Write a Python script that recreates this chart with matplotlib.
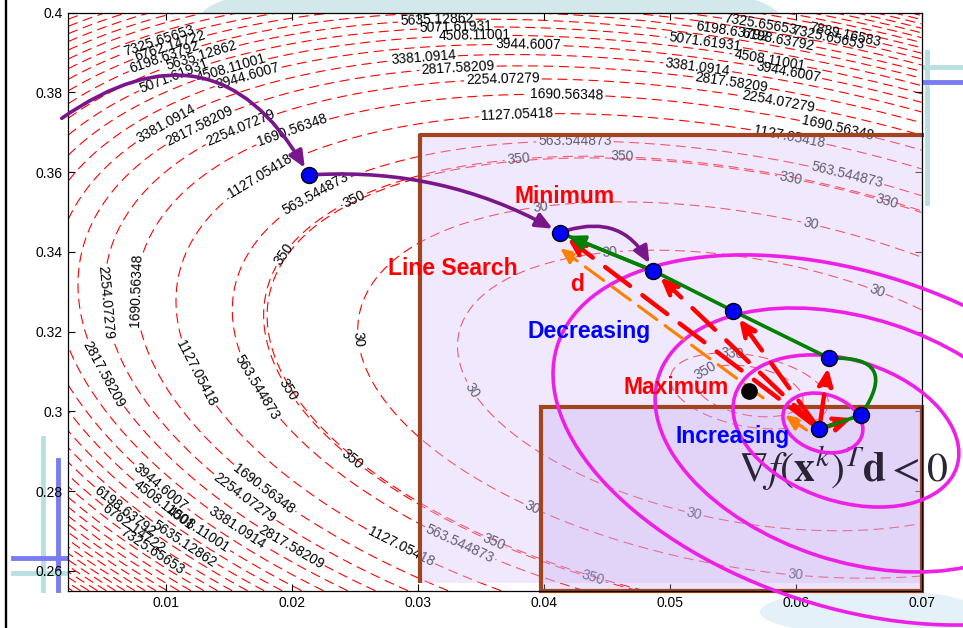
import numpy as np
import matplotlib
matplotlib.use("Agg")
import matplotlib.pyplot as plt
from matplotlib.patches import Rectangle, Ellipse, FancyArrowPatch
from matplotlib.lines import Line2D
from matplotlib.transforms import Affine2D

plt.rcParams['font.family'] = ['Liberation Sans', 'DejaVu Sans']
plt.rcParams['mathtext.fontset'] = 'stix'

#axis range + ticks
x_lim = [0.00227, 0.0700]
y_lim = [0.2550, 0.4000]
x_ticks = [0.01, 0.02, 0.03, 0.04, 0.05, 0.06, 0.07]
x_ticklabels = ["0.01", "0.02", "0.03", "0.04", "0.05", "0.06", "0.07"]
y_ticks = [0.26, 0.28, 0.30, 0.32, 0.34, 0.36, 0.38, 0.40]
y_ticklabels = ["0.26", "0.28", "0.3", "0.32", "0.34", "0.36", "0.38", "0.4"]

#contour levels (labelled ones, unlabelled outer ones keep the same step)
levels = [30, 330, 350, 563.544873, 1127.05418, 1690.56348, 2254.07279, 2817.58209,
          3381.0914, 3944.6007, 4508.11001, 5071.61931, 5635.12862, 6198.63792,
          6762.14722, 7325.65653, 7889.16583, 8452.67514, 9016.18444, 9579.69375,
          10143.2031, 10706.7124, 11270.2217, 11833.7310, 12397.2403, 12960.7496,
          13524.2589, 14087.7682, 14651.2775, 15214.7868, 15778.2961]

#objective: quartic ring around the local maximum (ellipse form fitted in screen pixels)
peak_x, peak_y = 0.05632, 0.30510
px_x, px_y = 12600.0, 3986.0
q_xx, q_xy, q_yy = 4.605e-6, 5.986e-6, 1.90e-5
q_skew, u_ref = 1.48e-9, 600.0
ring_k, ring_q0, f_min = 1506.0, 0.494, 0.0355

#where the contour labels sit
label_xy = [
    (0.00937, 0.39375), (0.01024, 0.3925), (0.00984, 0.3895), (0.01277, 0.3900),
    (0.01065, 0.3845), (0.01515, 0.38675), (0.01649, 0.3845),
    (0.00984, 0.3730), (0.01253, 0.3725), (0.01578, 0.3725), (0.0199, 0.3718),
    (0.01728, 0.3600), (0.02164, 0.35625), (0.02465, 0.3555),
    (0.0330, 0.3970), (0.03154, 0.39625), (0.03450, 0.39500), (0.03880, 0.39130),
    (0.03043, 0.38925), (0.0332, 0.38625), (0.03676, 0.38375), (0.04183, 0.37875),
    (0.03787, 0.37425), (0.04248, 0.3680), (0.03797, 0.3635), (0.04622, 0.3643),
    (0.03972, 0.3512), (0.04526, 0.3404),
    (0.05280, 0.39315), (0.05494, 0.39491), (0.05716, 0.39641), (0.05859, 0.39265),
    (0.05795, 0.38838), (0.05939, 0.38512), (0.05224, 0.38688), (0.05494, 0.38312),
    (0.05859, 0.37785), (0.06327, 0.37032), (0.05946, 0.36857), (0.06398, 0.35828),
    (0.05955, 0.35803), (0.06716, 0.35176), (0.06256, 0.39341), (0.06391, 0.39441),
    (0.06113, 0.34594), (0.06629, 0.32913),
    (0.05495, 0.31461), (0.05280, 0.31035),
    (0.01908, 0.33995), (0.00463, 0.32716), (0.00701, 0.33042), (0.01217, 0.30910),
    (0.01709, 0.30584), (0.00494, 0.30910), (0.01947, 0.30483), (0.02479, 0.31788),
    (0.03392, 0.30458),
    (0.00955, 0.28096), (0.01010, 0.27770), (0.01272, 0.27092), (0.01169, 0.26766),
    (0.00693, 0.27569), (0.00740, 0.27018), (0.00899, 0.26516), (0.01772, 0.28021),
    (0.01613, 0.27770), (0.02010, 0.26691), (0.01566, 0.27092), (0.02860, 0.26566),
    (0.02487, 0.28824),
    (0.03336, 0.26691), (0.03598, 0.26716), (0.03907, 0.27569), (0.04383, 0.25763),
    (0.05185, 0.27319), (0.05994, 0.25763),
]

#iterates x^k (0: start, 1: minimum, ... 6: last)
iter_x = [0.02137, 0.04129, 0.04870, 0.05505, 0.06267, 0.06518, 0.06187]
iter_y = [0.35928, 0.34481, 0.33527, 0.32516, 0.31330, 0.29907, 0.29549]
max_x, max_y = 0.05632, 0.30517
path_start = (0.00175, 0.37351)

#direction d arrows (tail, head)
d_arrows = [((0.05742, 0.30338), (0.04130, 0.34089)),
            ((0.06087, 0.29530), (0.05915, 0.29906))]

#magenta level ellipses: centre (data), size (px), tilt (deg)
ell_cx = [0.06216, 0.06399, 0.06471, 0.06431]
ell_cy = [0.29708, 0.29507, 0.29281, 0.29281]
ell_w = [82, 233, 413, 615]
ell_h = [57, 141, 243, 334]
ell_angle = -18

#shaded boxes: x0, y0, x1, y1
big_box = [0.03018, 0.25693, 0.0702, 0.36932]
small_box = [0.03979, 0.2550, 0.0700, 0.30108]

notes = [("Minimum", 0.04169, 0.35401, "red"),
         ("Line Search", 0.0328, 0.33595, "red"),
         ("d", 0.04262, 0.33169, "red"),
         ("Decreasing", 0.0436, 0.3199, "blue"),
         ("Maximum", 0.05054, 0.30597, "red"),
         ("Increasing", 0.05502, 0.2938, "blue")]

W, H = 963, 628
fig = plt.figure(figsize=(W / 100, H / 100), dpi=100)
ax = fig.add_axes([68.3 / W, 1 - 590.7 / H, (921.7 - 68.3) / W, (590.7 - 12.7) / H])
ax.set_xlim(x_lim)
ax.set_ylim(y_lim)

#pixels per data unit, for shapes sized on screen
sx = ax.bbox.width / (x_lim[1] - x_lim[0])
sy = ax.bbox.height / (y_lim[1] - y_lim[0])

#contours
gx = np.linspace(x_lim[0], x_lim[1], 600)
gy = np.linspace(y_lim[0], y_lim[1], 600)
X, Y = np.meshgrid(gx, gy)
u = (X - peak_x) * px_x
v = (Y - peak_y) * px_y
Q = q_xx * u**2 + q_xy * u * v + q_yy * v**2 + q_skew * (u + u_ref) * v**2
F = ring_k * (Q - ring_q0)**2 + f_min
cs = ax.contour(X, Y, F, levels=levels, colors="red", linewidths=0.8, zorder=1)
cs.set_linestyle((0, (9, 5)))
texts = ax.clabel(cs, fmt=lambda val: f"{val:.9g}", manual=label_xy, inline=True,
                  inline_spacing=2, fontsize=10, colors="black")
for t in texts:
    t.set_zorder(1.5)

brown = "#a2441f"
ax.add_patch(Rectangle((big_box[0], big_box[1]), big_box[2] - big_box[0], big_box[3] - big_box[1],
                       facecolor=(0.87, 0.80, 0.98, 0.45), edgecolor="none", zorder=2))
ax.plot([big_box[0], big_box[0], big_box[2]], [big_box[1], big_box[3], big_box[3]],
        color=brown, lw=3, zorder=2.2, clip_on=False, solid_capstyle="butt")
ax.add_patch(Rectangle((small_box[0], small_box[1]), small_box[2] - small_box[0],
                       small_box[3] - small_box[1], facecolor=(0.75, 0.65, 0.95, 0.30),
                       edgecolor=brown, lw=3, zorder=2.3, clip_on=False))

#formula
ax.text(0.06375, 0.2858, r"$\nabla f(\mathbf{x}^k)^T\mathbf{d} < 0$", fontsize=30,
        color="#2a2535", ha="center", va="center", zorder=2.5)

#level ellipses
for cx, cy, w, h in zip(ell_cx, ell_cy, ell_w, ell_h):
    tr = Affine2D().scale(1 / sx, 1 / sy).translate(cx, cy) + ax.transData
    ax.add_patch(Ellipse((0, 0), w, h, angle=ell_angle, transform=tr, fill=False,
                         edgecolor="#ee20e8", lw=2.6, zorder=3, clip_on=False))

def arrow(p0, p1, color, lw, ls="-", rad=0.0, sa=0, sb=0, style="-|>,head_length=0.5,head_width=0.22", z=4):
    a = FancyArrowPatch(p0, p1, arrowstyle=style, mutation_scale=20,
                        connectionstyle=f"arc3,rad={rad}", color=color, lw=lw,
                        linestyle=ls, shrinkA=sa, shrinkB=sb, zorder=z, clip_on=False)
    ax.add_patch(a)

pts = list(zip(iter_x, iter_y))

#red dashed search arrows from the last iterate
for k in [1, 2, 3, 4, 5]:
    arrow(pts[6], pts[k], "red", 3.2, ls=(0, (7, 3.5)), sa=3, sb=7)

#orange d arrows
for tail, head in d_arrows:
    arrow(tail, head, "#ff7f00", 2.2, ls=(0, (7.5, 3.3)), style="-|>,head_length=0.45,head_width=0.2")

#green path
green = "#008000"
ax.plot(iter_x[1:5], iter_y[1:5], color=green, lw=2.6, zorder=4.5)
arrow(pts[4], pts[5], green, 2.6, rad=-1.0, style="-", z=4.5)
ax.plot(iter_x[5:7], iter_y[5:7], color=green, lw=2.6, zorder=4.5)
arrow(pts[2], pts[1], green, 2.6, sb=6, z=4.5)

#purple path arrows
purple = "#7a168c"
arrow(path_start, pts[0], purple, 2.6, rad=-0.55, sb=6)
arrow(pts[0], pts[1], purple, 2.6, rad=-0.15, sa=5, sb=6)
arrow(pts[1], pts[2], purple, 2.6, rad=-0.45, sa=6, sb=6)

ax.plot(iter_x, iter_y, "o", ms=11.5, color="blue", mec="black", mew=1, zorder=6)
ax.plot([max_x], [max_y], "o", ms=11, color="black", zorder=6)

for txt, tx, ty, col in notes:
    ax.text(tx, ty, txt, color=col, fontsize=16.5, fontweight="bold", ha="center",
            va="center", zorder=7)

ax.set_xticks(x_ticks)
ax.set_xticklabels(x_ticklabels)
ax.set_yticks(y_ticks)
ax.set_yticklabels(y_ticklabels)
ax.tick_params(direction="in", top=True, right=True, length=5, width=0.8, labelsize=10, pad=4)
for s in ax.spines.values():
    s.set_linewidth(0.9)
ax.set_xlim(x_lim)
ax.set_ylim(y_lim)

#slide decoration around the figure (kept under the axes so tick labels stay on top)
def fline(xs, ys, color, lw):
    fig.add_artist(Line2D([x / W for x in xs], [1 - y / H for y in ys], color=color,
                          lw=lw, transform=fig.transFigure, zorder=-0.5))

fig.add_artist(Ellipse((490 / W, 1 - 18 / H), 580 / W, 90 / H, transform=fig.transFigure,
                       facecolor="#d3e8ea", edgecolor="none", zorder=-1))
fig.add_artist(Ellipse((870 / W, 1 - 612 / H), 220 / W, 45 / H, transform=fig.transFigure,
                       facecolor="#e4f1f8", edgecolor="none", zorder=-1))
fline([6, 6], [0, H], "black", 1.7)
fline([43, 43], [438, 590], "#b8e0e2", 3.5)
fline([58, 58], [460, 590], "#7c7cf2", 3.5)
fline([13, 68], [558, 558], "#7c7cf2", 3.5)
fline([13, 68], [573, 573], "#b8e0e2", 3.5)
fline([927, 927], [52, 203], "#b8e0e2", 3.5)
fline([922, 963], [67, 67], "#b8e0e2", 3.5)
fline([922, 963], [82, 82], "#7c7cf2", 3.5)

plt.savefig("out.png", dpi=100)
